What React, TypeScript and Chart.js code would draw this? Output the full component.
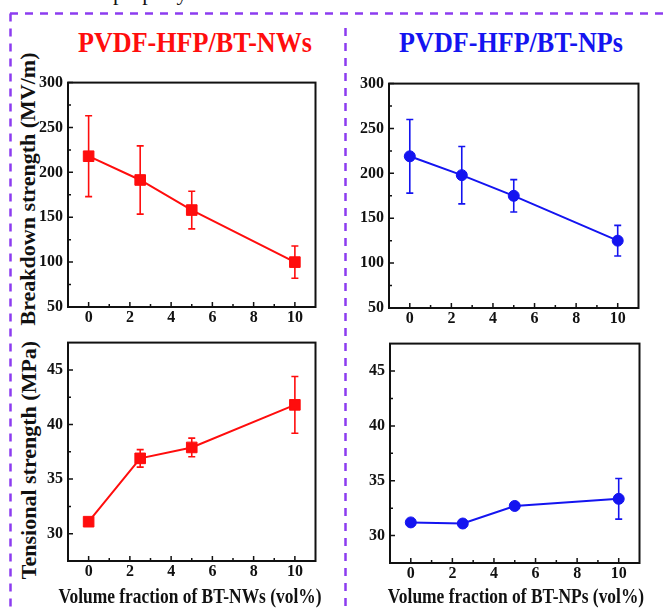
import React, { useEffect, useRef } from "react";
import { Chart, registerables } from "chart.js";

Chart.register(...registerables);

// ---- data ----
const volumeFractions = [0, 2.5, 5, 10];
const xTickValues = [0, 2, 4, 6, 8, 10];
const xMinorTicks = [1, 3, 5, 7, 9];

const breakdownTicks = [50, 100, 150, 200, 250, 300];
const breakdownMinorTicks = [75, 125, 175, 225, 275];
const tensileTicks = [30, 35, 40, 45];
const tensileMinorTicks = [32.5, 37.5, 42.5];

const nwBreakdown = [218, 191.5, 158, 100];
const nwBreakdownErr = [45, 38, 21, 18];
const npBreakdown = [219, 198, 175, 125];
const npBreakdownErr = [41, 32, 18, 17];

const nwTensile = [31.1, 36.9, 37.9, 41.8];
const nwTensileErr = [0.35, 0.8, 0.85, 2.6];
const npTensile = [31.2, 31.1, 32.7, 33.35];
const npTensileErr = [0.2, 0.2, 0.2, 1.85];

const RED = "#ff0d0d";
const BLUE = "#1414f0";
const PURPLE = "#8c3cf0";
const SERIF = "'Liberation Serif', 'Times New Roman', Times, serif";

type Panel = {
  frame: { left: number; top: number; right: number; bottom: number };
  canvasLeft: number;
  values: number[];
  errors: number[];
  color: string;
  marker: "rect" | "circle";
  markerRadius: number;
  yMin: number;
  yMax: number;
  yTicks: number[];
  yMinor: number[];
};

// Error bars behind the markers, plus a closed frame with inward ticks.
const axisFramePlugin = {
  id: "axisFrame",
  beforeDatasetsDraw(chart: any) {
    const { ctx } = chart;
    const x = chart.scales.x;
    const y = chart.scales.y;
    chart.data.datasets.forEach((ds: any) => {
      const errs: number[] | undefined = ds.errorBars;
      if (!errs) return;
      ctx.save();
      ctx.strokeStyle = ds.borderColor;
      ctx.lineWidth = 1.6;
      ds.data.forEach((pt: any, i: number) => {
        const px = x.getPixelForValue(pt.x);
        const top = y.getPixelForValue(pt.y + errs[i]);
        const bot = y.getPixelForValue(pt.y - errs[i]);
        ctx.beginPath();
        ctx.moveTo(px, top);
        ctx.lineTo(px, bot);
        ctx.moveTo(px - 3.5, top);
        ctx.lineTo(px + 3.5, top);
        ctx.moveTo(px - 3.5, bot);
        ctx.lineTo(px + 3.5, bot);
        ctx.stroke();
      });
      ctx.restore();
    });
  },
  afterDraw(chart: any, _args: any, opts: any) {
    const { ctx, chartArea: a } = chart;
    const x = chart.scales.x;
    const y = chart.scales.y;
    ctx.save();
    ctx.strokeStyle = "#111";
    ctx.lineWidth = 1.5;
    ctx.beginPath();
    const xTick = (v: number, len: number) => {
      const px = x.getPixelForValue(v);
      ctx.moveTo(px, a.bottom);
      ctx.lineTo(px, a.bottom - len);
    };
    const yTick = (v: number, len: number) => {
      const py = y.getPixelForValue(v);
      ctx.moveTo(a.left, py);
      ctx.lineTo(a.left + len, py);
    };
    x.ticks.forEach((t: any) => xTick(t.value, 5));
    (opts.xMinor || []).forEach((v: number) => xTick(v, 3));
    y.ticks.forEach((t: any) => yTick(t.value, 5));
    (opts.yMinor || []).forEach((v: number) => yTick(v, 3));
    ctx.stroke();
    ctx.lineWidth = 2;
    ctx.strokeRect(a.left, a.top, a.right - a.left, a.bottom - a.top);
    ctx.restore();
  },
};

const PAD_TOP = 10;
const PAD_RIGHT = 4;
const X_AXIS_H = 28;

function PanelChart({ p }: { p: Panel }) {
  const ref = useRef<HTMLCanvasElement | null>(null);
  const canvasTop = p.frame.top - PAD_TOP;
  const width = p.frame.right + PAD_RIGHT - p.canvasLeft;
  const height = p.frame.bottom + X_AXIS_H - canvasTop;
  const yAxisW = p.frame.left - p.canvasLeft;

  useEffect(() => {
    const tickFont = { family: SERIF, size: 16, weight: "bold" as const };
    const chart = new Chart(ref.current as HTMLCanvasElement, {
      type: "line",
      data: {
        datasets: [
          {
            data: volumeFractions.map((v, i) => ({ x: v, y: p.values[i] })),
            borderColor: p.color,
            backgroundColor: p.color,
            borderWidth: 2,
            tension: 0,
            pointStyle: p.marker,
            pointRadius: p.markerRadius,
            pointBackgroundColor: p.color,
            pointBorderColor: p.color,
            pointBorderWidth: 1,
            errorBars: p.errors,
          } as any,
        ],
      },
      options: {
        animation: false,
        responsive: false,
        maintainAspectRatio: false,
        layout: { padding: { top: PAD_TOP, right: PAD_RIGHT, left: 0, bottom: 0 } },
        plugins: {
          legend: { display: false },
          tooltip: { enabled: false },
          axisFrame: { xMinor: xMinorTicks, yMinor: p.yMinor },
        } as any,
        scales: {
          x: {
            type: "linear",
            min: -1,
            max: 11,
            grid: { display: false, drawTicks: false },
            border: { display: false },
            ticks: { padding: 1, color: "#111", font: tickFont, autoSkip: false, maxRotation: 0 },
            afterBuildTicks: (s: any) => {
              s.ticks = xTickValues.map((v) => ({ value: v }));
            },
            afterFit: (s: any) => {
              s.height = X_AXIS_H;
            },
          },
          y: {
            type: "linear",
            min: p.yMin,
            max: p.yMax,
            grid: { display: false, drawTicks: false },
            border: { display: false },
            ticks: { padding: 5, color: "#111", font: tickFont, autoSkip: false },
            afterBuildTicks: (s: any) => {
              s.ticks = p.yTicks.map((v) => ({ value: v }));
            },
            afterFit: (s: any) => {
              s.width = yAxisW;
            },
          },
        },
      },
      plugins: [axisFramePlugin],
    });
    return () => chart.destroy();
  }, []);

  return (
    <canvas
      ref={ref}
      width={width}
      height={height}
      style={{ position: "absolute", left: p.canvasLeft, top: canvasTop, width, height }}
    />
  );
}

const panels: Panel[] = [
  {
    frame: { left: 68, top: 78, right: 320, bottom: 307 },
    canvasLeft: 38,
    values: nwBreakdown,
    errors: nwBreakdownErr,
    color: RED,
    marker: "rect",
    markerRadius: 7.5,
    yMin: 50,
    yMax: 300,
    yTicks: breakdownTicks,
    yMinor: breakdownMinorTicks,
  },
  {
    frame: { left: 389, top: 79, right: 641, bottom: 308 },
    canvasLeft: 355,
    values: npBreakdown,
    errors: npBreakdownErr,
    color: BLUE,
    marker: "circle",
    markerRadius: 5.5,
    yMin: 50,
    yMax: 300,
    yTicks: breakdownTicks,
    yMinor: breakdownMinorTicks,
  },
  {
    frame: { left: 68, top: 338, right: 320, bottom: 561 },
    canvasLeft: 38,
    values: nwTensile,
    errors: nwTensileErr,
    color: RED,
    marker: "rect",
    markerRadius: 7.5,
    yMin: 27.5,
    yMax: 47.5,
    yTicks: tensileTicks,
    yMinor: tensileMinorTicks,
  },
  {
    frame: { left: 390, top: 339, right: 642, bottom: 563 },
    canvasLeft: 355,
    values: npTensile,
    errors: npTensileErr,
    color: BLUE,
    marker: "circle",
    markerRadius: 5.5,
    yMin: 27.5,
    yMax: 47.5,
    yTicks: tensileTicks,
    yMinor: tensileMinorTicks,
  },
];

const boldSerif = { fontFamily: SERIF, fontWeight: "bold" as const, whiteSpace: "nowrap" as const };

function HTitle({ text, cx, top, size, color, squeeze }: { text: string; cx: number; top: number; size: number; color: string; squeeze: number }) {
  return (
    <div
      style={{
        ...boldSerif,
        position: "absolute",
        left: cx,
        top,
        fontSize: size,
        lineHeight: `${size}px`,
        color,
        transform: `translateX(-50%) scaleX(${squeeze})`,
      }}
    >
      {text}
    </div>
  );
}

function VTitle({ text, cx, cy }: { text: string; cx: number; cy: number }) {
  return (
    <div
      style={{
        ...boldSerif,
        position: "absolute",
        left: cx,
        top: cy,
        fontSize: 22,
        lineHeight: "22px",
        color: "#111",
        transform: "translate(-50%, -50%) rotate(-90deg)",
      }}
    >
      {text}
    </div>
  );
}

export default function App() {
  return (
    <div
      style={{
        position: "fixed",
        left: 0,
        top: 0,
        width: 664,
        height: 608,
        overflow: "hidden",
        background: "#fff",
        fontFamily: SERIF,
      }}
    >
      <div style={{ position: "absolute", left: 113, top: -18, fontSize: 22, lineHeight: "22px", color: "#111", fontFamily: SERIF }}>
        property
      </div>

      <svg width={664} height={608} style={{ position: "absolute", left: 0, top: 0 }}>
        <g stroke={PURPLE} strokeWidth={2.5} strokeDasharray="8 7" fill="none">
          <line x1={10} y1={13.5} x2={664} y2={13.5} />
          <line x1={10.5} y1={13.5} x2={10.5} y2={608} />
          <line x1={345.5} y1={28} x2={345.5} y2={608} />
        </g>
      </svg>

      <HTitle text="PVDF-HFP/BT-NWs" cx={195} top={27} size={30} color={RED} squeeze={0.87} />
      <HTitle text="PVDF-HFP/BT-NPs" cx={511} top={27} size={30} color={BLUE} squeeze={0.87} />

      <VTitle text="Breakdown strength (MV/m)" cx={27.5} cy={188.5} />
      <VTitle text="Tensional strength (MPa)" cx={29} cy={459.5} />

      {panels.map((p, i) => (
        <PanelChart key={i} p={p} />
      ))}

      <HTitle text="Volume fraction of BT-NWs (vol%)" cx={190} top={586} size={21} color="#111" squeeze={0.83} />
      <HTitle text="Volume fraction of BT-NPs (vol%)" cx={516} top={586} size={21} color="#111" squeeze={0.83} />
    </div>
  );
}
